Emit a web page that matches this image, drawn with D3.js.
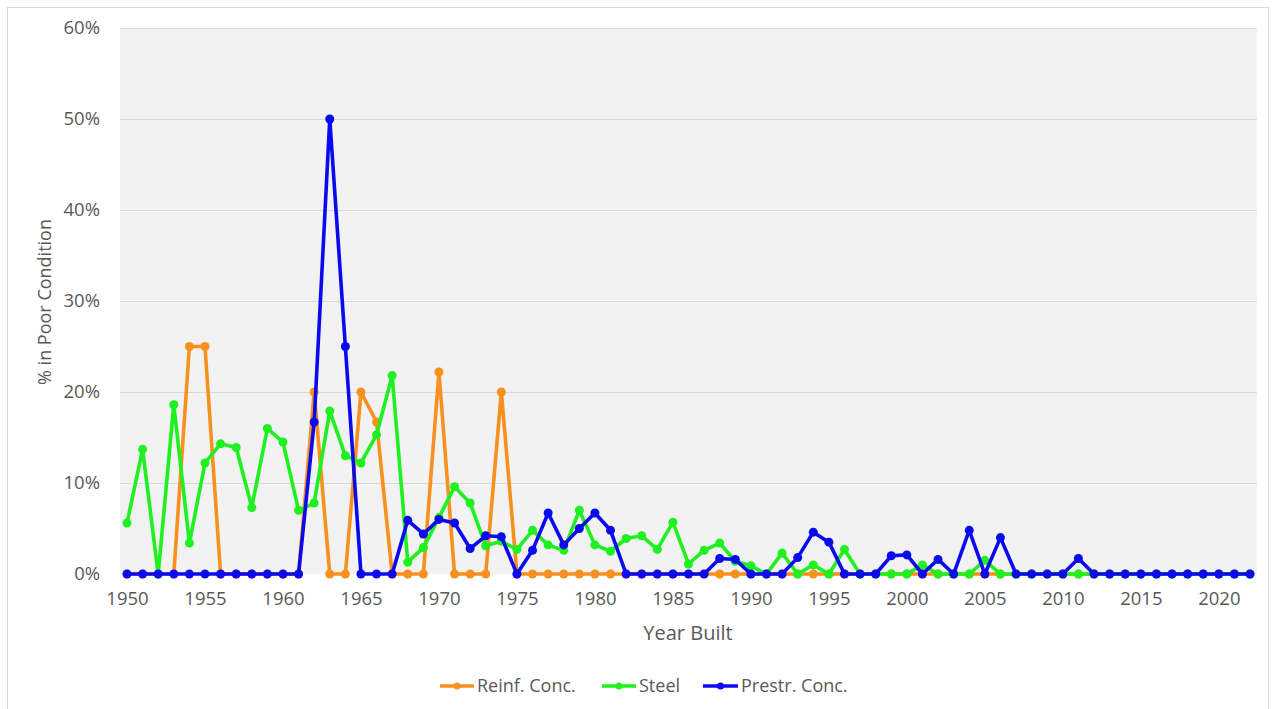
<!DOCTYPE html>
<html>
<head>
<meta charset="utf-8">
<script src="https://cdn.jsdelivr.net/npm/d3@7"></script>
<style>
  html, body { margin: 0; padding: 0; background: #ffffff; }
  svg { display: block; }
  text { font-family: "Open Sans", "Noto Sans", sans-serif; fill: #595959; }
</style>
</head>
<body>
<svg id="chart" width="1274" height="709"></svg>
<script>
// Year built, 1950 through 2022
const years = d3.range(1950, 2023);

// Share of bridges in poor condition (%), one value per year
const reinfConc = [
  0, 0, 0, 0, 25, 25, 0, 0, 0, 0,
  0, 0, 20, 0, 0, 20, 16.7, 0, 0, 0,
  22.2, 0, 0, 0, 20, 0, 0, 0, 0, 0,
  0, 0, 0, 0, 0, 0, 0, 0, 0, 0,
  0, 0, 0, 0, 0, 0, 0, 0, 0, 0,
  0, 0, 0, 0, 0, 0, 0, 0, 0, 0,
  0, 0, 0, 0, 0, 0, 0, 0, 0, 0,
  0, 0, 0
];
const steel = [
  5.6, 13.7, 0, 18.6, 3.4, 12.2, 14.3, 13.9, 7.3, 16.0,
  14.5, 7.0, 7.8, 17.9, 13.0, 12.2, 15.3, 21.8, 1.3, 2.9,
  6.2, 9.6, 7.8, 3.1, 3.6, 2.7, 4.8, 3.2, 2.6, 7.0,
  3.2, 2.5, 3.9, 4.2, 2.7, 5.7, 1.1, 2.6, 3.4, 1.4,
  0.9, 0, 2.3, 0, 1.0, 0, 2.7, 0, 0, 0,
  0, 1.0, 0, 0, 0, 1.5, 0, 0, 0, 0,
  0, 0, 0, 0, 0, 0, 0, 0, 0, 0,
  0, 0, 0
];
const prestrConc = [
  0, 0, 0, 0, 0, 0, 0, 0, 0, 0,
  0, 0, 16.7, 50, 25, 0, 0, 0, 5.9, 4.4,
  6.0, 5.6, 2.8, 4.2, 4.1, 0, 2.6, 6.7, 3.2, 5.0,
  6.7, 4.8, 0, 0, 0, 0, 0, 0, 1.7, 1.6,
  0, 0, 0, 1.8, 4.6, 3.5, 0, 0, 0, 2.0,
  2.1, 0, 1.6, 0, 4.8, 0, 4.0, 0, 0, 0,
  0, 1.7, 0, 0, 0, 0, 0, 0, 0, 0,
  0, 0, 0
];

const seriesNames = ["Reinf. Conc.", "Steel", "Prestr. Conc."];
const seriesColors = ["#f7901e", "#1ff01f", "#0a0aee"];
const seriesValues = [reinfConc, steel, prestrConc];

const xTicks = d3.range(1950, 2021, 5);
const yTicks = [0, 10, 20, 30, 40, 50, 60];

const svg = d3.select("#chart");

// Outer chart frame
svg.append("rect")
  .attr("x", 7.5).attr("y", 7.5)
  .attr("width", 1261).attr("height", 710)
  .attr("fill", "#ffffff").attr("stroke", "#d9d9d9").attr("stroke-width", 1);

const plot = { left: 120, right: 1257, top: 28, bottom: 574 };

const x = d3.scaleLinear().domain([1950, 2022]).range([127, 1250]);
const y = d3.scaleLinear().domain([0, 60]).range([plot.bottom, plot.top]);

// Plot area background
svg.append("rect")
  .attr("x", plot.left).attr("y", plot.top)
  .attr("width", plot.right - plot.left).attr("height", plot.bottom - plot.top)
  .attr("fill", "#f2f2f2");

// Horizontal gridlines
svg.append("g")
  .selectAll("line")
  .data(yTicks.filter(d => d > 0))
  .join("line")
  .attr("x1", plot.left).attr("x2", plot.right)
  .attr("y1", d => Math.round(y(d)) + 0.5).attr("y2", d => Math.round(y(d)) + 0.5)
  .attr("stroke", "#d9d9d9").attr("stroke-width", 1.2);

const tickFont = g => g.selectAll("text")
  .attr("font-size", 18.5).attr("fill", "#595959")
  .style("font-family", "'Open Sans', 'Noto Sans', sans-serif");

// Y axis labels
const yAxis = d3.axisLeft(y).tickValues(yTicks).tickFormat(d => d + "%").tickSize(0).tickPadding(0);
svg.append("g")
  .attr("transform", "translate(100,0)")
  .call(yAxis)
  .call(g => g.select(".domain").remove())
  .call(tickFont);

// X axis labels
const xAxis = d3.axisBottom(x).tickValues(xTicks).tickFormat(d3.format("d")).tickSize(0).tickPadding(0);
svg.append("g")
  .attr("transform", "translate(0,592)")
  .call(xAxis)
  .call(g => g.select(".domain").remove())
  .call(tickFont);

// Axis titles
svg.append("text")
  .attr("x", 688).attr("y", 640)
  .attr("text-anchor", "middle").attr("font-size", 20)
  .text("Year Built");

svg.append("text")
  .attr("transform", "translate(51,302) rotate(-90)")
  .attr("text-anchor", "middle").attr("font-size", 18)
  .text("% in Poor Condition");

// Series lines and markers
const line = d3.line().x((d, i) => x(years[i])).y(d => y(d));

seriesValues.forEach((vals, s) => {
  const g = svg.append("g");
  g.append("path")
    .datum(vals)
    .attr("d", line)
    .attr("fill", "none")
    .attr("stroke", seriesColors[s])
    .attr("stroke-width", 3.6)
    .attr("stroke-linejoin", "round");
  g.selectAll("circle")
    .data(vals)
    .join("circle")
    .attr("cx", (d, i) => x(years[i]))
    .attr("cy", d => y(d))
    .attr("r", 4.5)
    .attr("fill", seriesColors[s]);
});

// Legend
const legendItems = [
  { x0: 440, x1: 474, tx: 477 },
  { x0: 602, x1: 636, tx: 639 },
  { x0: 703, x1: 738, tx: 741 }
];
const legend = svg.append("g");
legendItems.forEach((it, s) => {
  const cy = 686;
  legend.append("line")
    .attr("x1", it.x0).attr("x2", it.x1).attr("y1", cy).attr("y2", cy)
    .attr("stroke", seriesColors[s]).attr("stroke-width", 3.5);
  legend.append("circle")
    .attr("cx", (it.x0 + it.x1) / 2).attr("cy", cy).attr("r", 3.5)
    .attr("fill", seriesColors[s]);
  legend.append("text")
    .attr("x", it.tx).attr("y", cy).attr("dy", "0.35em")
    .attr("font-size", 18)
    .text(seriesNames[s]);
});
</script>
</body>
</html>
